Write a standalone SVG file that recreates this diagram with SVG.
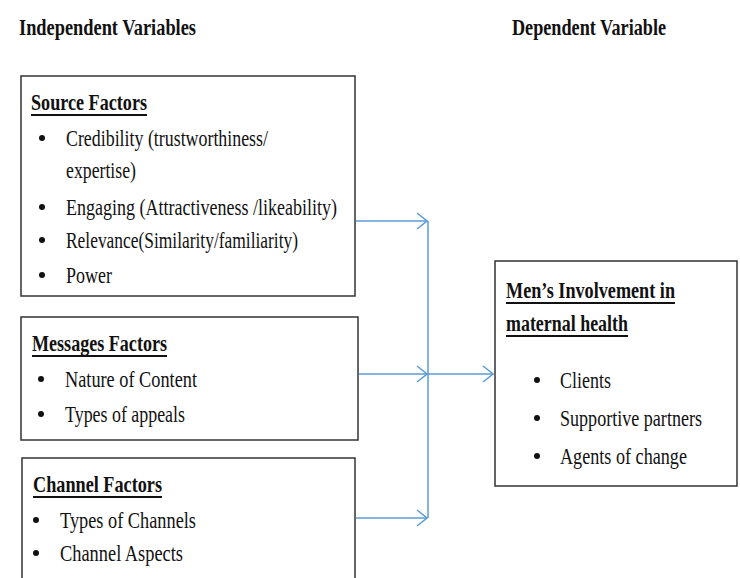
<svg xmlns="http://www.w3.org/2000/svg" width="740" height="578" viewBox="0 0 740 578">
<defs>
<style>
text{font-family:"Liberation Serif","Times New Roman",serif;font-size:23px;fill:#111}
.h{font-weight:bold;font-size:23px}
.box{fill:#fff;stroke:#333;stroke-width:1.5}
.ul{stroke:#111;stroke-width:2}
.c{fill:none;stroke:#5b9bd5;stroke-width:1.5}
.b{fill:#111}
</style>
<marker id="ah" viewBox="0 0 12 18" refX="11" refY="9" markerWidth="12" markerHeight="18" markerUnits="userSpaceOnUse" orient="auto">
<path d="M1,1 L11,9 L1,17" fill="none" stroke="#5b9bd5" stroke-width="1.5"/>
</marker>
</defs>
<rect width="740" height="578" fill="#fff"/>
<text class="h" x="19" y="35" textLength="177" lengthAdjust="spacingAndGlyphs">Independent Variables</text>
<text class="h" x="512" y="35" textLength="154" lengthAdjust="spacingAndGlyphs">Dependent Variable</text>

<g id="source">
<rect class="box" x="21" y="76" width="334" height="220"/>
<text class="h" x="31" y="110" textLength="116" lengthAdjust="spacingAndGlyphs">Source Factors</text>
<line class="ul" x1="31" y1="115" x2="147" y2="115"/>
<circle class="b" cx="42" cy="138" r="3"/>
<text x="66" y="146" textLength="202" lengthAdjust="spacingAndGlyphs">Credibility (trustworthiness/</text>
<text x="66" y="178" textLength="70" lengthAdjust="spacingAndGlyphs">expertise)</text>
<circle class="b" cx="42" cy="207" r="3"/>
<text x="66" y="215" textLength="271" lengthAdjust="spacingAndGlyphs">Engaging (Attractiveness /likeability)</text>
<circle class="b" cx="42" cy="240" r="3"/>
<text x="66" y="248" textLength="232" lengthAdjust="spacingAndGlyphs">Relevance(Similarity/familiarity)</text>
<circle class="b" cx="42" cy="275" r="3"/>
<text x="66" y="283" textLength="46" lengthAdjust="spacingAndGlyphs">Power</text>
</g>

<g id="messages">
<rect class="box" x="21" y="317" width="337" height="123"/>
<text class="h" x="32" y="351" textLength="135" lengthAdjust="spacingAndGlyphs">Messages Factors</text>
<line class="ul" x1="32" y1="356" x2="167" y2="356"/>
<circle class="b" cx="41" cy="379" r="3"/>
<text x="65" y="387" textLength="132" lengthAdjust="spacingAndGlyphs">Nature of Content</text>
<circle class="b" cx="41" cy="414" r="3"/>
<text x="65" y="422" textLength="120" lengthAdjust="spacingAndGlyphs">Types of appeals</text>
</g>

<g id="channel">
<rect class="box" x="22" y="458" width="333" height="140"/>
<text class="h" x="33" y="492" textLength="129" lengthAdjust="spacingAndGlyphs">Channel Factors</text>
<line class="ul" x1="33" y1="497" x2="162" y2="497"/>
<circle class="b" cx="36" cy="520" r="3"/>
<text x="60" y="528" textLength="136" lengthAdjust="spacingAndGlyphs">Types of Channels</text>
<circle class="b" cx="36" cy="553" r="3"/>
<text x="60" y="561" textLength="123" lengthAdjust="spacingAndGlyphs">Channel Aspects</text>
</g>

<g id="mens">
<rect class="box" x="495" y="261" width="242" height="225"/>
<text class="h" x="506" y="298" textLength="169" lengthAdjust="spacingAndGlyphs">Men’s Involvement in</text>
<line class="ul" x1="506" y1="303" x2="675" y2="303"/>
<text class="h" x="506" y="331" textLength="122" lengthAdjust="spacingAndGlyphs">maternal health</text>
<line class="ul" x1="506" y1="336" x2="628" y2="336"/>
<circle class="b" cx="537" cy="380" r="3"/>
<text x="560" y="388" textLength="51" lengthAdjust="spacingAndGlyphs">Clients</text>
<circle class="b" cx="537" cy="418" r="3"/>
<text x="560" y="426" textLength="142" lengthAdjust="spacingAndGlyphs">Supportive partners</text>
<circle class="b" cx="537" cy="456" r="3"/>
<text x="560" y="464" textLength="127" lengthAdjust="spacingAndGlyphs">Agents of change</text>
</g>

<g id="connectors">
<line class="c" x1="428" y1="221" x2="428" y2="518"/>
<line class="c" x1="356" y1="221" x2="427" y2="221" marker-end="url(#ah)"/>
<line class="c" x1="359" y1="374" x2="427" y2="374" marker-end="url(#ah)"/>
<line class="c" x1="356" y1="518" x2="427" y2="518" marker-end="url(#ah)"/>
<line class="c" x1="428" y1="374" x2="493" y2="374" marker-end="url(#ah)"/>
</g>
</svg>
